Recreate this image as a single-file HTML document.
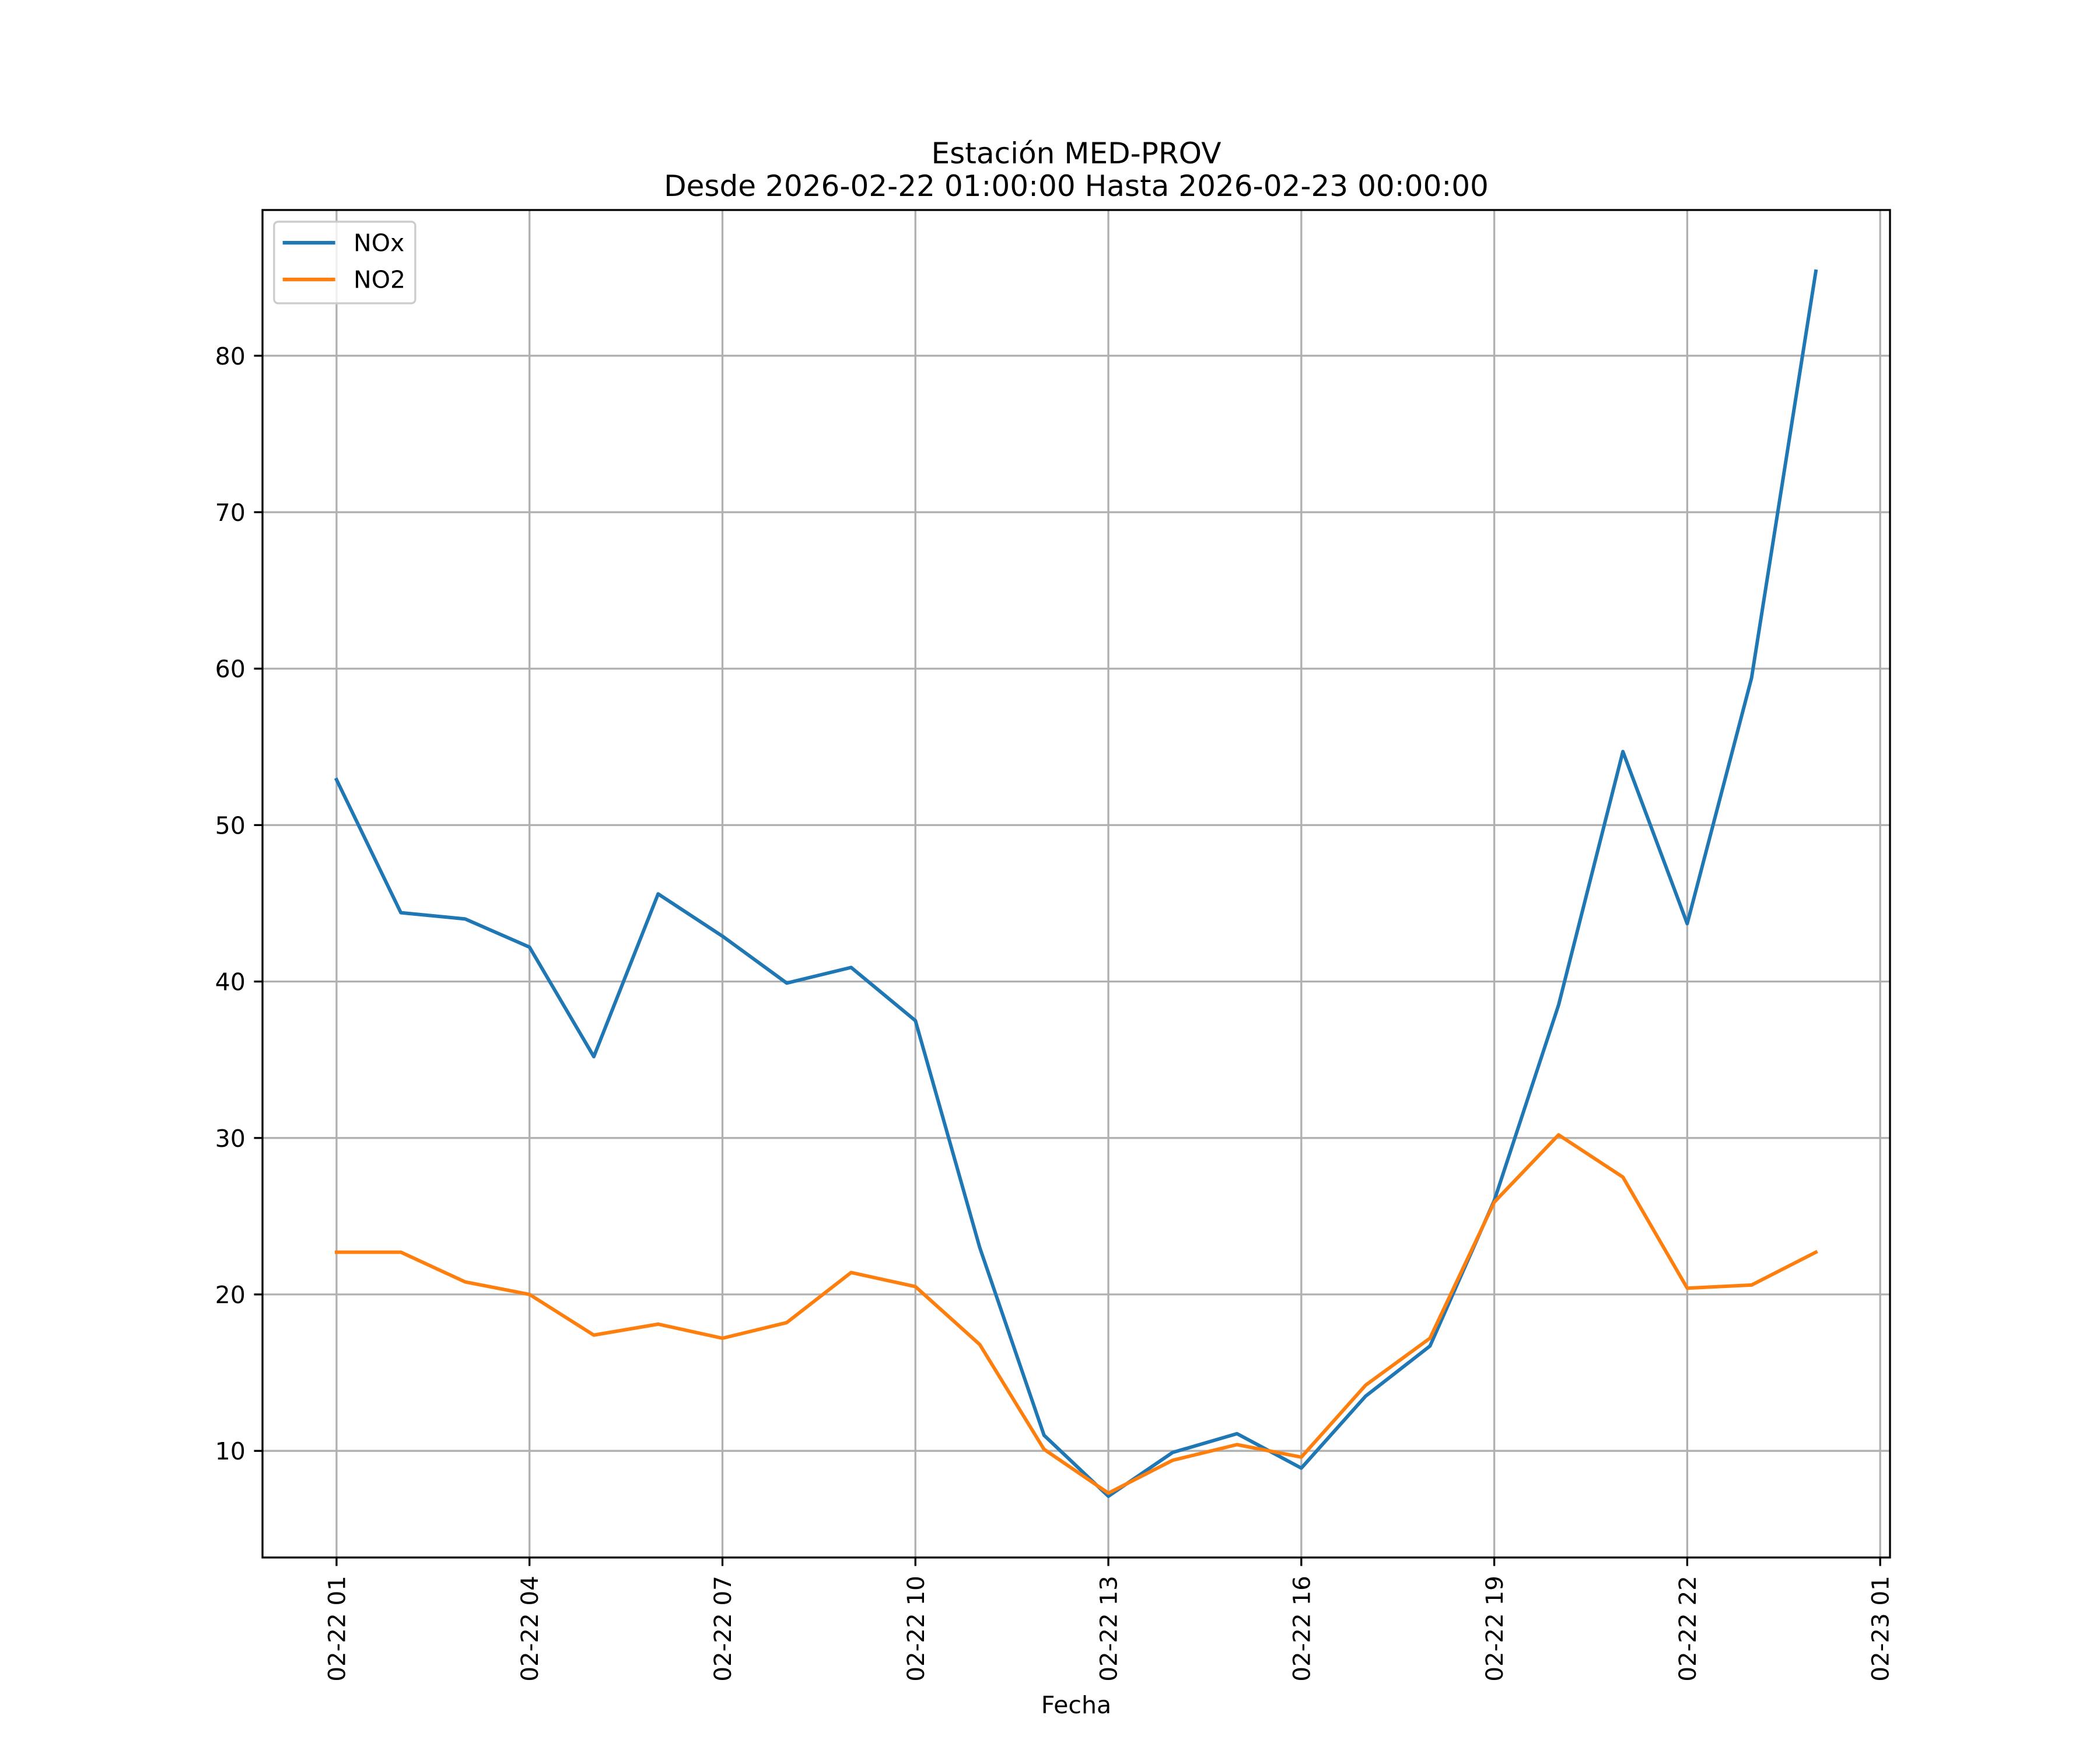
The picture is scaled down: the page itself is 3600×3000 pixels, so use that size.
<!DOCTYPE html>
<html><head><meta charset="utf-8"><style>
html,body{margin:0;padding:0;background:#fff;}
svg{display:block;font-family:"DejaVu Sans","Liberation Sans",sans-serif;}
</style></head><body>
<svg id="chart" width="3600" height="3000" viewBox="0 0 1560 1300" xmlns="http://www.w3.org/2000/svg">
<rect width="1560" height="1300" fill="#fff"/>
<text x="799.5" y="121.3" text-anchor="middle" font-size="21.7">Estación MED-PROV</text>
<text x="799.5" y="145.6" text-anchor="middle" font-size="21.7">Desde 2026-02-22 01:00:00 Hasta 2026-02-23 00:00:00</text>
<g id="grid"></g>
<g id="series"></g>
<rect x="195" y="156" width="1209" height="1001" fill="none" stroke="#000" stroke-width="1.44"/>
<g id="ticks"></g>
<text x="799.5" y="1272.6" text-anchor="middle" font-size="17.8">Fecha</text>
<g>
<rect x="203.6" y="164.7" width="104.9" height="60.6" rx="3" fill="#fff" fill-opacity="0.8" stroke="#ccc" stroke-width="1.44"/>
<line x1="210" y1="180.3" x2="249" y2="180.3" stroke="#1f77b4" stroke-width="2.7"/>
<text x="262.6" y="186.6" font-size="17.8">NOx</text>
<line x1="210" y1="207.6" x2="249" y2="207.6" stroke="#ff7f0e" stroke-width="2.7"/>
<text x="262.6" y="213.9" font-size="17.8">NO2</text>
</g>
</svg>
<script>
const hours = [1,2,3,4,5,6,7,8,9,10,11,12,13,14,15,16,17,18,19,20,21,22,23,24];
const noxValues = [52.9,44.4,44.0,42.2,35.2,45.6,42.9,39.9,40.9,37.5,23.0,11.0,7.1,9.9,11.1,8.9,13.5,16.7,26.0,38.5,54.7,43.7,59.4,85.4];
const no2Values = [22.7,22.7,20.8,20.0,17.4,18.1,17.2,18.2,21.4,20.5,16.8,10.1,7.3,9.4,10.4,9.6,14.2,17.2,25.9,30.2,27.5,20.4,20.6,22.7];
const yTicks = [10,20,30,40,50,60,70,80];
const xTickHours = [1,4,7,10,13,16,19,22,25];
const xTickLabels = ["02-22 01","02-22 04","02-22 07","02-22 10","02-22 13","02-22 16","02-22 19","02-22 22","02-23 01"];

const NS="http://www.w3.org/2000/svg";
const all = noxValues.concat(no2Values);
const dmin = Math.min(...all), dmax = Math.max(...all), pad=(dmax-dmin)*0.05;
const y0 = dmin-pad, y1 = dmax+pad;
const xs = h => 250 + (h-1)*(1396.7-250)/24;
const ys = v => 1157 - (v-y0)/(y1-y0)*1001;
function mk(tag, attrs, parent){const e=document.createElementNS(NS,tag);for(const k in attrs)e.setAttribute(k,attrs[k]);parent.appendChild(e);return e;}
const grid=document.getElementById('grid'), ticks=document.getElementById('ticks'), series=document.getElementById('series');
yTicks.forEach(v=>{
  const y=ys(v);
  const g=mk('line',{x1:195,x2:1404,y1:y,y2:y,stroke:'#b0b0b0','stroke-width':1.44},grid);
  
  
  mk('line',{x1:188.7,x2:195,y1:y,y2:y,stroke:'#000','stroke-width':1.44},ticks);
  const t=mk('text',{x:182.4,y:y+6.5,'text-anchor':'end','font-size':17.8},ticks);
  t.textContent=v;
  
  
});
xTickHours.forEach((h,i)=>{
  const x=xs(h);
  const g=mk('line',{x1:x,x2:x,y1:156,y2:1157,stroke:'#b0b0b0','stroke-width':1.44},grid);
  
  
  mk('line',{x1:x,x2:x,y1:1157,y2:1163.3,stroke:'#000','stroke-width':1.44},ticks);
  const t=mk('text',{x:0,y:0,'text-anchor':'end','font-size':17.5,transform:`translate(${x+6.3},1170.5) rotate(-90)`},ticks);
  t.textContent=xTickLabels[i];
  
  
});
function line(vals,color,name){
  const p=mk('polyline',{points:vals.map((v,i)=>xs(hours[i])+','+ys(v)).join(' '),fill:'none',stroke:color,'stroke-width':2.6,'stroke-linejoin':'round','stroke-linecap':'square'},series);
  
  
}
line(noxValues,'#1f77b4','nox-line');
line(no2Values,'#ff7f0e','no2-line');
</script>
</body></html>
